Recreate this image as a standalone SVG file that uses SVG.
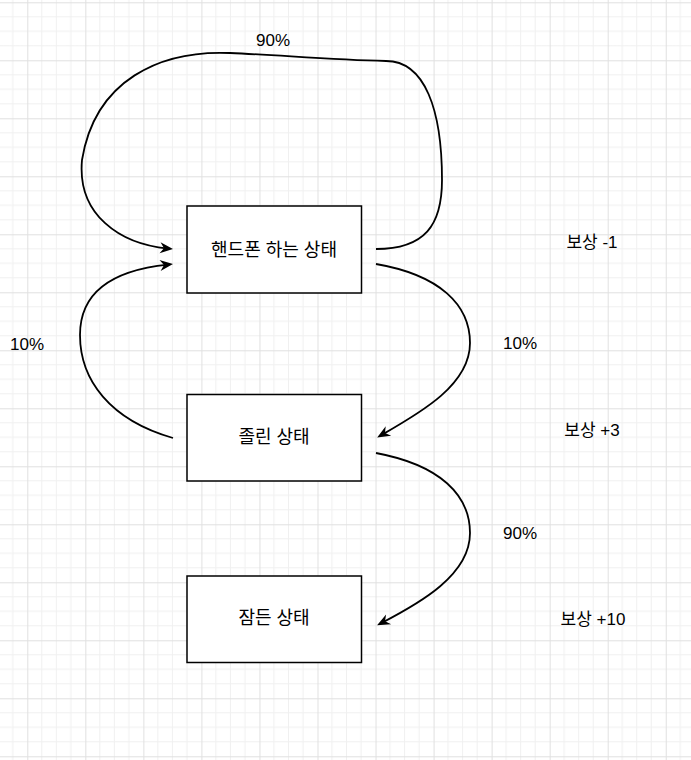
<svg xmlns="http://www.w3.org/2000/svg" width="691" height="760" viewBox="0 0 691 760">
  <style>
    .box { fill: #ffffff; stroke: #000000; stroke-width: 1.5; }
    .edge { fill: none; stroke: #000000; stroke-width: 1.8; }
    .lbl { font-family: "Liberation Sans", "Noto Sans CJK KR", sans-serif; font-size: 17px; fill: #000000; text-anchor: middle; }
    .ntx { font-size: 18px; }
  </style>
  <defs>
    <pattern id="grid" patternUnits="userSpaceOnUse" x="27.3" y="2.3" width="58.04" height="58">
      <g stroke="#f0f0f0" stroke-width="1">
        <line x1="14.51" y1="0" x2="14.51" y2="58"/>
        <line x1="29.02" y1="0" x2="29.02" y2="58"/>
        <line x1="43.53" y1="0" x2="43.53" y2="58"/>
        <line x1="0" y1="14.5" x2="58.04" y2="14.5"/>
        <line x1="0" y1="29" x2="58.04" y2="29"/>
        <line x1="0" y1="43.5" x2="58.04" y2="43.5"/>
      </g>
      <g stroke="#e0e0e0" stroke-width="1">
        <line x1="0.5" y1="0" x2="0.5" y2="58"/>
        <line x1="0" y1="0.5" x2="58.04" y2="0.5"/>
      </g>
    </pattern>
    <marker id="arrow" viewBox="-14 -7 15 14" refX="-5" refY="0" markerWidth="15" markerHeight="14" markerUnits="userSpaceOnUse" orient="auto">
      <path d="M0,0 L-13,-5.5 L-9,0 L-13,5.5 Z" fill="#000000"/>
    </marker>
  </defs>
  <rect x="0" y="0" width="691" height="760" fill="#ffffff"/>
  <rect x="0" y="0" width="691" height="760" fill="url(#grid)"/>

  <g id="connectors">
    <path class="edge" marker-end="url(#arrow)" d="M376,249 C425,249 442,225 442,180 C442,110 425,61 386,61 C330,60 280,55 230,53 C160,50 95,80 82,160 C77,215 120,244 168,248.6"/>
    <path class="edge" marker-end="url(#arrow)" d="M376,264 C440,275 470,305 470,343 C470,385 420,413 381.5,435"/>
    <path class="edge" marker-end="url(#arrow)" d="M173,438 C110,420 80,380 80,335 C80,290 115,270 168,264.6"/>
    <path class="edge" marker-end="url(#arrow)" d="M376,453 C440,465 470,495 470,533 C470,575 420,603 381.5,623"/>
  </g>

  <g id="node-phone">
    <rect class="box" x="187" y="206" width="174.5" height="87"/>
    <text class="lbl ntx" x="274" y="256">핸드폰 하는 상태</text>
  </g>
  <g id="node-sleepy">
    <rect class="box" x="187" y="394.5" width="174.5" height="86.5"/>
    <text class="lbl ntx" x="274" y="443">졸린 상태</text>
  </g>
  <g id="node-asleep">
    <rect class="box" x="187" y="576" width="174.5" height="86.5"/>
    <text class="lbl ntx" x="274" y="624">잠든 상태</text>
  </g>

  <g id="labels">
    <text class="lbl" x="273" y="46">90%</text>
    <text class="lbl" x="27" y="350">10%</text>
    <text class="lbl" x="520" y="349">10%</text>
    <text class="lbl" x="520" y="539">90%</text>
    <text class="lbl" x="592" y="248">보상 -1</text>
    <text class="lbl" x="592" y="436">보상 +3</text>
    <text class="lbl" x="593" y="625">보상 +10</text>
  </g>
</svg>
